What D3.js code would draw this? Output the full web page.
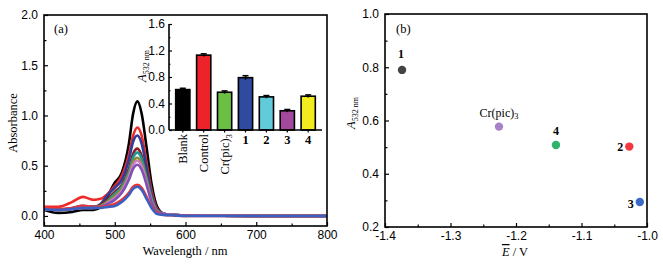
<!DOCTYPE html>
<html>
<head>
<meta charset="utf-8">
<script src="https://cdn.jsdelivr.net/npm/d3@7"></script>
<style>
  body { margin: 0; background: #fff; }
  svg { font-family: "Liberation Serif", "Times New Roman", serif; }
  .frame { fill: none; stroke: #000; stroke-width: 1.6; }
  .axis path { display: none; }
  .axis line { stroke: #000; stroke-width: 1.2; }
  .axis text { font-size: 12px; fill: #000; }
</style>
</head>
<body>
<svg id="chart" width="663" height="265"></svg>
<script>
// ---- panel (a): UV-vis spectra ----
const wavelengths = [400, 420, 440, 455, 470, 480, 490, 500, 510, 520, 526, 532, 538, 545, 552, 560, 570, 585, 600, 700, 800];
const specBlack   = [0.06, 0.03, 0.04, 0.06, 0.06, 0.09, 0.20, 0.33, 0.43, 0.72, 1.02, 1.14, 1.02, 0.68, 0.32, 0.09, 0.02, 0.01, 0.005, 0.0, 0.0];
const specRed     = [0.09, 0.09, 0.14, 0.19, 0.16, 0.17, 0.22, 0.30, 0.40, 0.61, 0.80, 0.88, 0.80, 0.53, 0.25, 0.07, 0.02, 0.01, 0.005, 0.0, 0.0];
const specNavy    = [0.07, 0.06, 0.08, 0.10, 0.09, 0.12, 0.21, 0.28, 0.36, 0.56, 0.74, 0.80, 0.72, 0.48, 0.22, 0.06, 0.02, 0.01, 0.005, 0.0, 0.0];
const specMaroon  = [0.07, 0.06, 0.07, 0.09, 0.09, 0.11, 0.17, 0.24, 0.31, 0.47, 0.62, 0.67, 0.60, 0.40, 0.19, 0.05, 0.02, 0.01, 0.005, 0.0, 0.0];
const specTeal    = [0.07, 0.06, 0.07, 0.09, 0.09, 0.10, 0.15, 0.22, 0.29, 0.44, 0.58, 0.63, 0.57, 0.38, 0.18, 0.05, 0.02, 0.01, 0.005, 0.0, 0.0];
const specOlive   = [0.07, 0.06, 0.07, 0.08, 0.08, 0.10, 0.14, 0.20, 0.27, 0.41, 0.54, 0.58, 0.52, 0.35, 0.16, 0.05, 0.02, 0.01, 0.005, 0.0, 0.0];
const specPink    = [0.07, 0.06, 0.07, 0.08, 0.08, 0.09, 0.13, 0.18, 0.25, 0.39, 0.51, 0.55, 0.50, 0.33, 0.15, 0.04, 0.02, 0.01, 0.005, 0.0, 0.0];
const specPurple  = [0.07, 0.06, 0.07, 0.08, 0.08, 0.09, 0.12, 0.16, 0.23, 0.36, 0.47, 0.51, 0.46, 0.31, 0.14, 0.04, 0.02, 0.01, 0.005, 0.0, 0.0];
const specRed2    = [0.09, 0.07, 0.08, 0.10, 0.09, 0.09, 0.10, 0.12, 0.16, 0.23, 0.29, 0.31, 0.28, 0.19, 0.09, 0.03, 0.01, 0.005, 0.0, 0.0, 0.0];
const specBlue    = [0.07, 0.06, 0.07, 0.08, 0.08, 0.08, 0.09, 0.10, 0.14, 0.21, 0.27, 0.29, 0.26, 0.17, 0.08, 0.02, 0.01, 0.005, 0.0, 0.0, 0.0];
const spectra = [specBlack, specRed, specNavy, specMaroon, specTeal, specOlive, specPink, specPurple, specRed2, specBlue];
const specColors = ["#000000", "#ee2a2a", "#2c3e9c", "#8c1c24", "#1a9c9c", "#8c8c2c", "#d27ac8", "#7e52b4", "#ee3434", "#3a60c0"];

// inset bars
const barCategories = ["Blank", "Control", "Cr(pic)3", "1", "2", "3", "4"];
const barValues = [0.61, 1.13, 0.57, 0.79, 0.50, 0.29, 0.51];
const barErrors = [0.02, 0.02, 0.02, 0.03, 0.02, 0.02, 0.02];
const barColors = ["#000000", "#ee2229", "#6cbf45", "#2f4a9e", "#62cbdb", "#a3489c", "#f2ec1e"];

// ---- panel (b): A532 vs mean potential ----
const complexLabels = ["1", "Cr(pic)3", "4", "2", "3"];
const potentials = [-1.374, -1.226, -1.139, -1.027, -1.011];
const absorb532 = [0.79, 0.577, 0.508, 0.502, 0.294];
const pointColors = ["#444444", "#a882c8", "#2db36c", "#f03a40", "#3a6ac6"];

const svg = d3.select("#chart");

// helper: label with subscript "3" for Cr(pic)3
function chemText(sel, label) {
  if (label === "Cr(pic)3") {
    sel.append("tspan").text("Cr(pic)");
    sel.append("tspan").attr("font-size", "0.7em").attr("dy", "0.3em").text("3");
  } else {
    sel.text(label);
  }
}
function a532Label(g) {
  g.append("tspan").attr("font-style", "italic").text("A");
  g.append("tspan").attr("font-size", "8px").attr("dy", "0.35em").text("532 nm");
}

// ===== panel (a) =====
const xA = d3.scaleLinear().domain([400, 800]).range([44, 327]);
const yA = d3.scaleLinear().domain([-0.1, 2.0]).range([226, 15]);

const line = d3.line()
  .x((d, i) => xA(wavelengths[i]))
  .y(d => yA(d))
  .curve(d3.curveMonotoneX);

const gA = svg.append("g");
gA.append("defs").append("clipPath").attr("id", "clipA")
  .append("rect").attr("x", 44).attr("y", 15).attr("width", 283).attr("height", 211);

gA.append("g").attr("clip-path", "url(#clipA)")
  .selectAll("path").data(spectra).join("path")
  .attr("d", line)
  .attr("fill", "none")
  .attr("stroke", (d, i) => specColors[i])
  .attr("stroke-width", 2.6);

// axes (inward ticks)
gA.append("g").attr("class", "axis").attr("transform", "translate(0,226)")
  .call(d3.axisBottom(xA).tickValues([400, 500, 600, 700, 800]).tickSize(-4).tickPadding(4).tickFormat(d3.format("d")));
gA.append("g").attr("class", "axis").attr("transform", "translate(0,226)")
  .call(d3.axisBottom(xA).tickValues([450, 550, 650, 750]).tickSize(-2.5).tickFormat(""));
gA.append("g").attr("class", "axis").attr("transform", "translate(44,0)")
  .call(d3.axisLeft(yA).tickValues([0, 0.5, 1.0, 1.5, 2.0]).tickSize(-4).tickPadding(6).tickFormat(d3.format(".1f")));
gA.append("g").attr("class", "axis").attr("transform", "translate(44,0)")
  .call(d3.axisLeft(yA).tickValues([0.25, 0.75, 1.25, 1.75]).tickSize(-2.5).tickFormat(""));

gA.append("rect").attr("class", "frame").attr("x", 44).attr("y", 15).attr("width", 283).attr("height", 211);

gA.append("text").attr("x", 185).attr("y", 255).attr("text-anchor", "middle")
  .attr("font-size", "12.5px").text("Wavelength / nm");
gA.append("text").attr("transform", "translate(17,123) rotate(-90)").attr("text-anchor", "middle")
  .attr("font-size", "12.5px").text("Absorbance");
gA.append("text").attr("x", 54).attr("y", 33).attr("font-size", "12.5px").text("(a)");

// inset bar chart
const xI = d3.scaleBand().domain(barCategories).range([169, 322]).padding(0.32);
const yI = d3.scaleLinear().domain([0, 1.6]).range([130, 24]);
const gI = gA.append("g");

gI.selectAll("rect.bar").data(barValues).join("rect")
  .attr("class", "bar")
  .attr("x", (d, i) => xI(barCategories[i]))
  .attr("y", d => yI(d))
  .attr("width", xI.bandwidth())
  .attr("height", d => yI(0) - yI(d))
  .attr("fill", (d, i) => barColors[i])
  .attr("stroke", "#000").attr("stroke-width", 1.6);

// error bars
gI.selectAll("g.err").data(barValues).join("g").attr("class", "err")
  .each(function(d, i) {
    const cx = xI(barCategories[i]) + xI.bandwidth() / 2;
    const g = d3.select(this);
    g.append("line").attr("x1", cx).attr("x2", cx)
      .attr("y1", yI(d - barErrors[i])).attr("y2", yI(d + barErrors[i]))
      .attr("stroke", "#000").attr("stroke-width", 1.5);
    g.append("line").attr("x1", cx - 3).attr("x2", cx + 3)
      .attr("y1", yI(d + barErrors[i])).attr("y2", yI(d + barErrors[i]))
      .attr("stroke", "#000").attr("stroke-width", 1.5);
  });

gI.append("g").attr("class", "axis").attr("transform", "translate(169,0)")
  .call(d3.axisLeft(yI).tickValues([0, 0.4, 0.8, 1.2, 1.6]).tickSize(-3).tickPadding(4).tickFormat(d3.format(".1f")));
gI.append("g").attr("class", "axis").attr("transform", "translate(169,0)")
  .call(d3.axisLeft(yI).tickValues([0.2, 0.6, 1.0, 1.4]).tickSize(-1.5).tickFormat(""));
gI.append("g").attr("class", "axis").attr("transform", "translate(0,130)")
  .call(d3.axisBottom(xI).tickSize(2.5).tickFormat(""));
gI.append("line").attr("x1", 169).attr("x2", 169).attr("y1", 24).attr("y2", 130)
  .attr("stroke", "#000").attr("stroke-width", 1.6);
gI.append("line").attr("x1", 169).attr("x2", 322).attr("y1", 130).attr("y2", 130)
  .attr("stroke", "#000").attr("stroke-width", 1.6);

// category labels: names rotated, numbers upright bold
barCategories.forEach((c, i) => {
  const cx = xI(c) + xI.bandwidth() / 2;
  if (/^\d$/.test(c)) {
    gI.append("text").attr("x", cx).attr("y", 144).attr("text-anchor", "middle")
      .attr("font-size", "12.5px").attr("font-weight", "bold").text(c);
  } else {
    const t = gI.append("text")
      .attr("transform", `translate(${cx + 4.5},134) rotate(-90)`)
      .attr("text-anchor", "end").attr("font-size", "12.5px");
    chemText(t, c);
  }
});

gI.append("text").attr("transform", "translate(146,66) rotate(-90)").attr("text-anchor", "middle")
  .attr("font-size", "12.5px").call(a532Label);

// ===== panel (b) =====
const xB = d3.scaleLinear().domain([-1.4, -1.0]).range([385, 647]);
const yB = d3.scaleLinear().domain([0.2, 1.0]).range([227, 14]);
const gB = svg.append("g");

gB.append("g").attr("class", "axis").attr("transform", "translate(0,227)")
  .call(d3.axisBottom(xB).tickValues([-1.4, -1.3, -1.2, -1.1, -1.0]).tickSize(-4).tickPadding(4).tickFormat(d3.format(".1f")));
gB.append("g").attr("class", "axis").attr("transform", "translate(0,227)")
  .call(d3.axisBottom(xB).tickValues([-1.35, -1.25, -1.15, -1.05]).tickSize(-2.5).tickFormat(""));
gB.append("g").attr("class", "axis").attr("transform", "translate(385,0)")
  .call(d3.axisLeft(yB).tickValues([0.2, 0.4, 0.6, 0.8, 1.0]).tickSize(-4).tickPadding(6).tickFormat(d3.format(".1f")));
gB.append("g").attr("class", "axis").attr("transform", "translate(385,0)")
  .call(d3.axisLeft(yB).tickValues([0.3, 0.5, 0.7, 0.9]).tickSize(-2.5).tickFormat(""));
gB.selectAll(".axis text").text(function() { return this.textContent.replace("\u2212", "-"); });

gB.append("rect").attr("class", "frame").attr("x", 385).attr("y", 14).attr("width", 262).attr("height", 213);

gB.selectAll("circle").data(absorb532).join("circle")
  .attr("cx", (d, i) => xB(potentials[i]))
  .attr("cy", d => yB(d))
  .attr("r", 4.2)
  .attr("fill", (d, i) => pointColors[i]);

// point labels: offsets relative to each point
const labelOffsets = [[-1, -12, "middle"], [0, -10, "middle"], [0, -10, "middle"], [-6, 4, "end"], [-6, 6, "end"]];
complexLabels.forEach((c, i) => {
  const [dx, dy, anchor] = labelOffsets[i];
  const t = gB.append("text")
    .attr("x", xB(potentials[i]) + dx).attr("y", yB(absorb532[i]) + dy)
    .attr("text-anchor", anchor).attr("font-size", "12px");
  if (c === "Cr(pic)3") chemText(t, c);
  else t.attr("font-weight", "bold").text(c);
});

gB.append("text").attr("x", 396).attr("y", 33).attr("font-size", "12.5px").text("(b)");
gB.append("text").attr("transform", "translate(355,113) rotate(-90)").attr("text-anchor", "middle")
  .attr("font-size", "12.5px").call(a532Label);

const xt = gB.append("text").attr("x", 515).attr("y", 256).attr("text-anchor", "middle").attr("font-size", "12.5px");
xt.append("tspan").attr("font-style", "italic").attr("text-decoration", "overline").text("E");
xt.append("tspan").text(" / V");
</script>
</body>
</html>
